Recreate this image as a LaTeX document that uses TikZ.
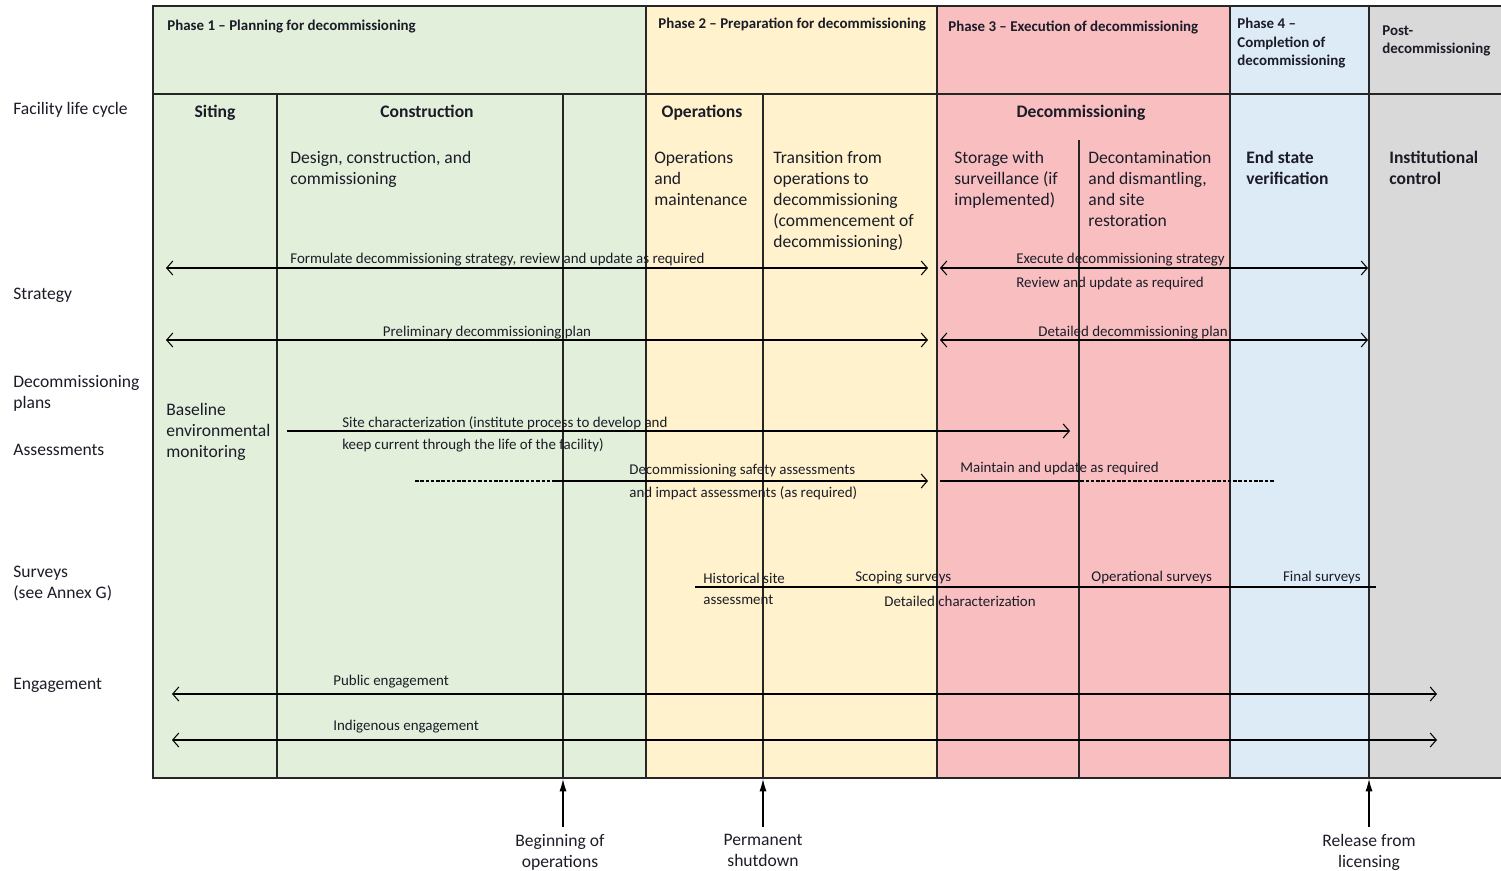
\documentclass[tikz,border=0pt]{standalone}
\usepackage{fontspec}
\setmainfont{Carlito}
\usepackage{xcolor}
\usetikzlibrary{arrows.meta,positioning}
\definecolor{phaseone}{RGB}{226,239,218}
\definecolor{phasetwo}{RGB}{255,242,204}
\definecolor{phasethree}{RGB}{248,190,192}
\definecolor{phasefour}{RGB}{221,235,247}
\definecolor{postphase}{RGB}{217,217,217}
\definecolor{inkdark}{RGB}{28,28,40}
\tikzset{
  phasehead/.style={anchor=north west, align=left, inner sep=0pt, text=inkdark, font=\fontsize{8.5}{10.5}\selectfont\bfseries},
  rowlabel/.style={anchor=north west, align=left, inner sep=0pt, text=inkdark, font=\fontsize{10}{12}\selectfont},
  stagehead/.style={anchor=base, inner sep=0pt, text=inkdark, font=\fontsize{10}{12}\selectfont\bfseries},
  celltext/.style={anchor=north west, align=left, inner sep=0pt, text=inkdark, font=\fontsize{10}{12}\selectfont},
  lbl/.style={inner sep=0pt, text=inkdark, font=\fontsize{8.5}{10}\selectfont},
  milelabel/.style={anchor=north, align=center, inner sep=0pt, text=inkdark, font=\fontsize{10}{12}\selectfont},
  gridline/.style={draw=black!85, line width=0.6pt},
  span/.style={{Straight Barb[length=3.5pt,width=8pt]}-{Straight Barb[length=3.5pt,width=8pt]}, line width=0.6pt},
  oneway/.style={-{Straight Barb[length=3.5pt,width=8pt]}, line width=0.6pt},
  plainline/.style={line width=0.6pt},
  dashline/.style={line width=0.6pt, dash pattern=on 2pt off 1pt},
  milestone/.style={-{Latex[length=7pt,width=4pt]}, line width=0.6pt}
}

\begin{document}
\begin{tikzpicture}[x=0.02cm, y=-0.02cm]
  \useasboundingbox (0,0) rectangle (1501,871);

  % phase columns
  \fill[phaseone]   (153,6) rectangle (646,778);
  \fill[phasetwo]   (646,6) rectangle (937,778);
  \fill[phasethree] (937,6) rectangle (1230,778);
  \fill[phasefour]  (1230,6) rectangle (1369,778);
  \fill[postphase]  (1369,6) rectangle (1501,778);

  % table rules
  \draw[gridline] (1501,6) -- (153,6) -- (153,778) -- (1501,778);
  \draw[gridline] (153,94) -- (1501,94);
  \foreach \xx in {646,937,1230,1369}
    \draw[gridline] (\xx,6) -- (\xx,778);
  \foreach \xx in {277,563,763}
    \draw[gridline] (\xx,94) -- (\xx,778);
  \draw[gridline] (1079,140) -- (1079,778);

  % phase headings
  \node[phasehead] (ph1) at (167,20)  {Phase 1 -- Planning for decommissioning};
  \node[phasehead] (ph2) at (658,18)  {Phase 2 -- Preparation for decommissioning};
  \node[phasehead] (ph3) at (948,21)  {Phase 3 -- Execution of decommissioning};
  \node[phasehead] (ph4) at (1237,18) {Phase 4 --\\Completion of\\decommissioning};
  \node[phasehead] (ph5) at (1382,25) {Post-\\decommissioning};

  % row labels
  \node[rowlabel] (rlife)   at (13,102) {Facility life cycle};
  \node[rowlabel] (rstrat)  at (13,288) {Strategy};
  \node[rowlabel] (rplans)  at (13,375) {Decommissioning\\plans};
  \node[rowlabel] (rassess) at (13,444) {Assessments};
  \node[rowlabel] (rsurv)   at (13,566) {Surveys\\(see Annex G)};
  \node[rowlabel] (rengage) at (13,678) {Engagement};

  % life cycle stages
  \node[stagehead] (siting) at (215,118)  {Siting};
  \node[stagehead] (constr) at (427,118)  {Construction};
  \node[stagehead] (oper)   at (702,118)  {Operations};
  \node[stagehead] (decom)  at (1081,118) {Decommissioning};

  \node[celltext] (design)  at (290,151)  {Design, construction, and\\commissioning};
  \node[celltext] (opmaint) at (654,151)  {Operations\\and\\maintenance};
  \node[celltext] (trans)   at (773,151)  {Transition from\\operations to\\decommissioning\\(commencement of\\decommissioning)};
  \node[celltext] (storage) at (954,151)  {Storage with\\surveillance (if\\implemented)};
  \node[celltext] (decont)  at (1088,151) {Decontamination\\and dismantling,\\and site\\restoration};
  \node[celltext, font=\fontsize{10}{12}\selectfont\bfseries] (endstate) at (1246,151) {End state\\verification};
  \node[celltext, font=\fontsize{10}{12}\selectfont\bfseries] (instctl)  at (1389,151) {Institutional\\control};
  \node[celltext] (baseline) at (166,403) {Baseline\\environmental\\monitoring};

  % arrow end points
  \coordinate (stratL) at (166,268);  \coordinate (stratM) at (928,268);
  \coordinate (stratN) at (940,268);  \coordinate (stratR) at (1368,268);
  \coordinate (planL) at (166,340);   \coordinate (planM) at (928,340);
  \coordinate (planN) at (940,340);   \coordinate (planR) at (1368,340);
  \coordinate (siteL) at (287,431);   \coordinate (siteR) at (1070,431);
  \coordinate (assessA) at (415,481); \coordinate (assessB) at (553,481);
  \coordinate (assessR) at (928,481);
  \coordinate (maintL) at (940,481);  \coordinate (maintB) at (1075,481);
  \coordinate (maintR) at (1274,481);
  \coordinate (survL) at (695,587);   \coordinate (survR) at (1376,587);
  \coordinate (pubL) at (172,694);    \coordinate (pubR) at (1437,694);
  \coordinate (indL) at (172,740);    \coordinate (indR) at (1437,740);

  % strategy
  \draw[span] (stratL) -- (stratM);
  \draw[span] (stratN) -- (stratR);
  \node[lbl, anchor=west] (formulate) at (290,260) {Formulate decommissioning strategy, review and update as required};
  \node[lbl, anchor=west] (execute)   at (1016,260) {Execute decommissioning strategy};
  \node[lbl, anchor=west] (review)    at (1016,284) {Review and update as required};

  % decommissioning plans
  \draw[span] (planL) -- (planM);
  \draw[span] (planN) -- (planR);
  \node[lbl] (prelim) at (487,333) {Preliminary decommissioning plan};
  \node[lbl, anchor=west] (detailed) at (1038,333) {Detailed decommissioning plan};

  % assessments
  \draw[oneway] (siteL) -- (siteR);
  \node[lbl, anchor=west] (site1) at (342,423) {Site characterization (institute process to develop and};
  \node[lbl, anchor=west] (site2) at (342,445) {keep current through the life of the facility)};
  \draw[dashline] (assessA) -- (assessB);
  \draw[oneway] (assessB) -- (assessR);
  \node[lbl, anchor=west] (safety1) at (629,471) {Decommissioning safety assessments};
  \node[lbl, anchor=west] (safety2) at (629,493) {and impact assessments (as required)};
  \draw[plainline] (maintL) -- (maintB);
  \draw[dashline] (maintB) -- (maintR);
  \node[lbl, anchor=west] (maint) at (960,469) {Maintain and update as required};

  % surveys
  \draw[plainline] (survL) -- (survR);
  \node[lbl, anchor=west] (hist1)   at (703,578)  {Historical site};
  \node[lbl, anchor=west] (hist2)   at (703,600)  {assessment};
  \node[lbl, anchor=west] (scoping) at (855,578)  {Scoping surveys};
  \node[lbl, anchor=west] (detchar) at (884,601)  {Detailed characterization};
  \node[lbl, anchor=west] (opsurv)  at (1091,578) {Operational surveys};
  \node[lbl, anchor=east] (finsurv) at (1361,578) {Final surveys};

  % engagement
  \draw[span] (pubL) -- (pubR);
  \draw[span] (indL) -- (indR);
  \node[lbl, anchor=west] (public) at (333,682) {Public engagement};
  \node[lbl, anchor=west] (indig)  at (333,727) {Indigenous engagement};

  % milestones
  \coordinate (opsfoot)  at (563,779);
  \coordinate (shutfoot) at (763,779);
  \coordinate (relfoot)  at (1369,779);
  \node[milelabel] (beginops) at (560,834)  {Beginning of\\operations};
  \node[milelabel] (shutdown) at (763,834)  {Permanent\\shutdown};
  \node[milelabel] (release)  at (1369,834) {Release from\\licensing};
  \draw[milestone] ([yshift=4pt]beginops.north -| opsfoot) -- (opsfoot);
  \draw[milestone] ([yshift=4pt]shutdown.north -| shutfoot) -- (shutfoot);
  \draw[milestone] ([yshift=4pt]release.north -| relfoot) -- (relfoot);
\end{tikzpicture}
\end{document}
